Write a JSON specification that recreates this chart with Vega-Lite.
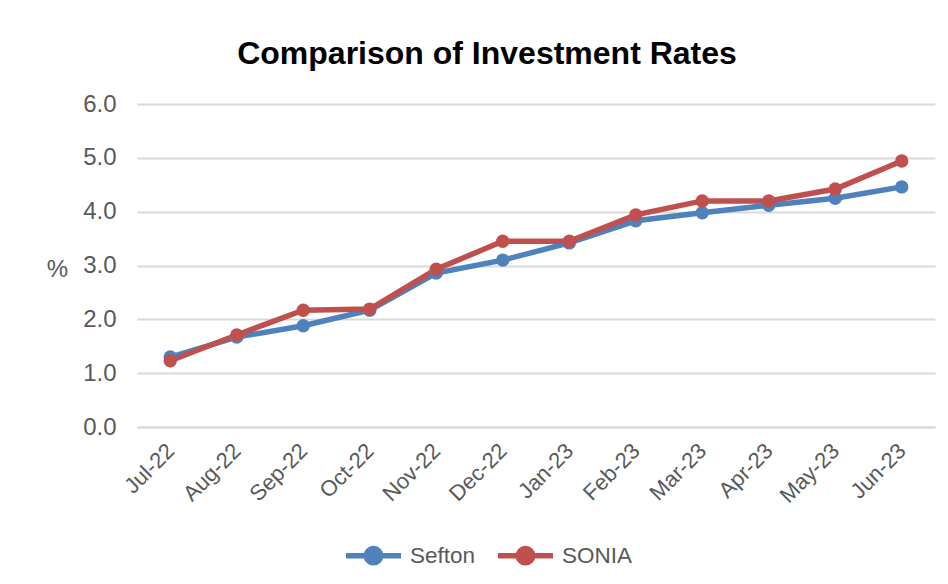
{
  "$schema": "https://vega.github.io/schema/vega-lite/v6.json",
  "autosize": "none",
  "width": 798,
  "height": 323,
  "padding": {"left": 137, "top": 104, "right": 13, "bottom": 157},
  "background": "white",
  "config": {
    "font": "Liberation Sans",
    "view": {"stroke": null}
  },
  "title": {
    "text": "Comparison of Investment Rates",
    "fontSize": 32,
    "fontWeight": "bold",
    "color": "#000000",
    "anchor": "middle",
    "dx": -49,
    "offset": 21
  },
  "data": {
    "values": [
      {"month": "Jul-22", "series": "Sefton", "value": 1.30},
      {"month": "Aug-22", "series": "Sefton", "value": 1.67},
      {"month": "Sep-22", "series": "Sefton", "value": 1.88},
      {"month": "Oct-22", "series": "Sefton", "value": 2.17},
      {"month": "Nov-22", "series": "Sefton", "value": 2.86},
      {"month": "Dec-22", "series": "Sefton", "value": 3.10},
      {"month": "Jan-23", "series": "Sefton", "value": 3.42},
      {"month": "Feb-23", "series": "Sefton", "value": 3.83},
      {"month": "Mar-23", "series": "Sefton", "value": 3.98},
      {"month": "Apr-23", "series": "Sefton", "value": 4.12},
      {"month": "May-23", "series": "Sefton", "value": 4.25},
      {"month": "Jun-23", "series": "Sefton", "value": 4.46},
      {"month": "Jul-22", "series": "SONIA", "value": 1.23},
      {"month": "Aug-22", "series": "SONIA", "value": 1.71},
      {"month": "Sep-22", "series": "SONIA", "value": 2.17},
      {"month": "Oct-22", "series": "SONIA", "value": 2.19},
      {"month": "Nov-22", "series": "SONIA", "value": 2.93},
      {"month": "Dec-22", "series": "SONIA", "value": 3.45},
      {"month": "Jan-23", "series": "SONIA", "value": 3.45},
      {"month": "Feb-23", "series": "SONIA", "value": 3.94},
      {"month": "Mar-23", "series": "SONIA", "value": 4.20},
      {"month": "Apr-23", "series": "SONIA", "value": 4.20},
      {"month": "May-23", "series": "SONIA", "value": 4.42},
      {"month": "Jun-23", "series": "SONIA", "value": 4.94}
    ]
  },
  "mark": {
    "type": "line",
    "strokeWidth": 5.5,
    "point": {"filled": true, "size": 180, "opacity": 1}
  },
  "encoding": {
    "x": {
      "field": "month",
      "type": "ordinal",
      "sort": ["Jul-22","Aug-22","Sep-22","Oct-22","Nov-22","Dec-22","Jan-23","Feb-23","Mar-23","Apr-23","May-23","Jun-23"],
      "scale": {"paddingInner": 0, "paddingOuter": 0.5},
      "axis": {
        "title": null,
        "labelAngle": -45,
        "labelAlign": "right",
        "labelBaseline": "middle",
        "labelFontSize": 22,
        "labelColor": "#595959",
        "labelPadding": 20,
        "ticks": false,
        "domainColor": "#d9d9d9",
        "domainWidth": 2,
        "grid": false
      }
    },
    "y": {
      "field": "value",
      "type": "quantitative",
      "scale": {"domain": [0, 6], "nice": false},
      "axis": {
        "values": [0, 1, 2, 3, 4, 5, 6],
        "format": ".1f",
        "title": "%",
        "titleAngle": 0,
        "titleX": -80,
        "titleY": 165,
        "titleAlign": "center",
        "titleBaseline": "middle",
        "titleFontSize": 24,
        "titleFontWeight": "normal",
        "titleColor": "#595959",
        "labelFontSize": 24,
        "labelColor": "#595959",
        "labelPadding": 21,
        "ticks": false,
        "domain": false,
        "gridColor": "#d9d9d9",
        "gridWidth": 2
      }
    },
    "color": {
      "field": "series",
      "type": "nominal",
      "scale": {"domain": ["Sefton", "SONIA"], "range": ["#4F81BD", "#C0504D"]},
      "legend": {
        "title": null,
        "orient": "none",
        "direction": "horizontal",
        "legendX": 206,
        "legendY": 421,
        "symbolType": "M-1,0L1,0M-0.26,0A0.26,0.26 0 1,1 0.26,0A0.26,0.26 0 1,1 -0.26,0Z",
        "symbolSize": 3025,
        "symbolStrokeWidth": 5.5,
        "symbolOpacity": 1,
        "labelFontSize": 22.5,
        "labelColor": "#595959",
        "labelOffset": 6,
        "columnPadding": 11
      }
    }
  }
}
